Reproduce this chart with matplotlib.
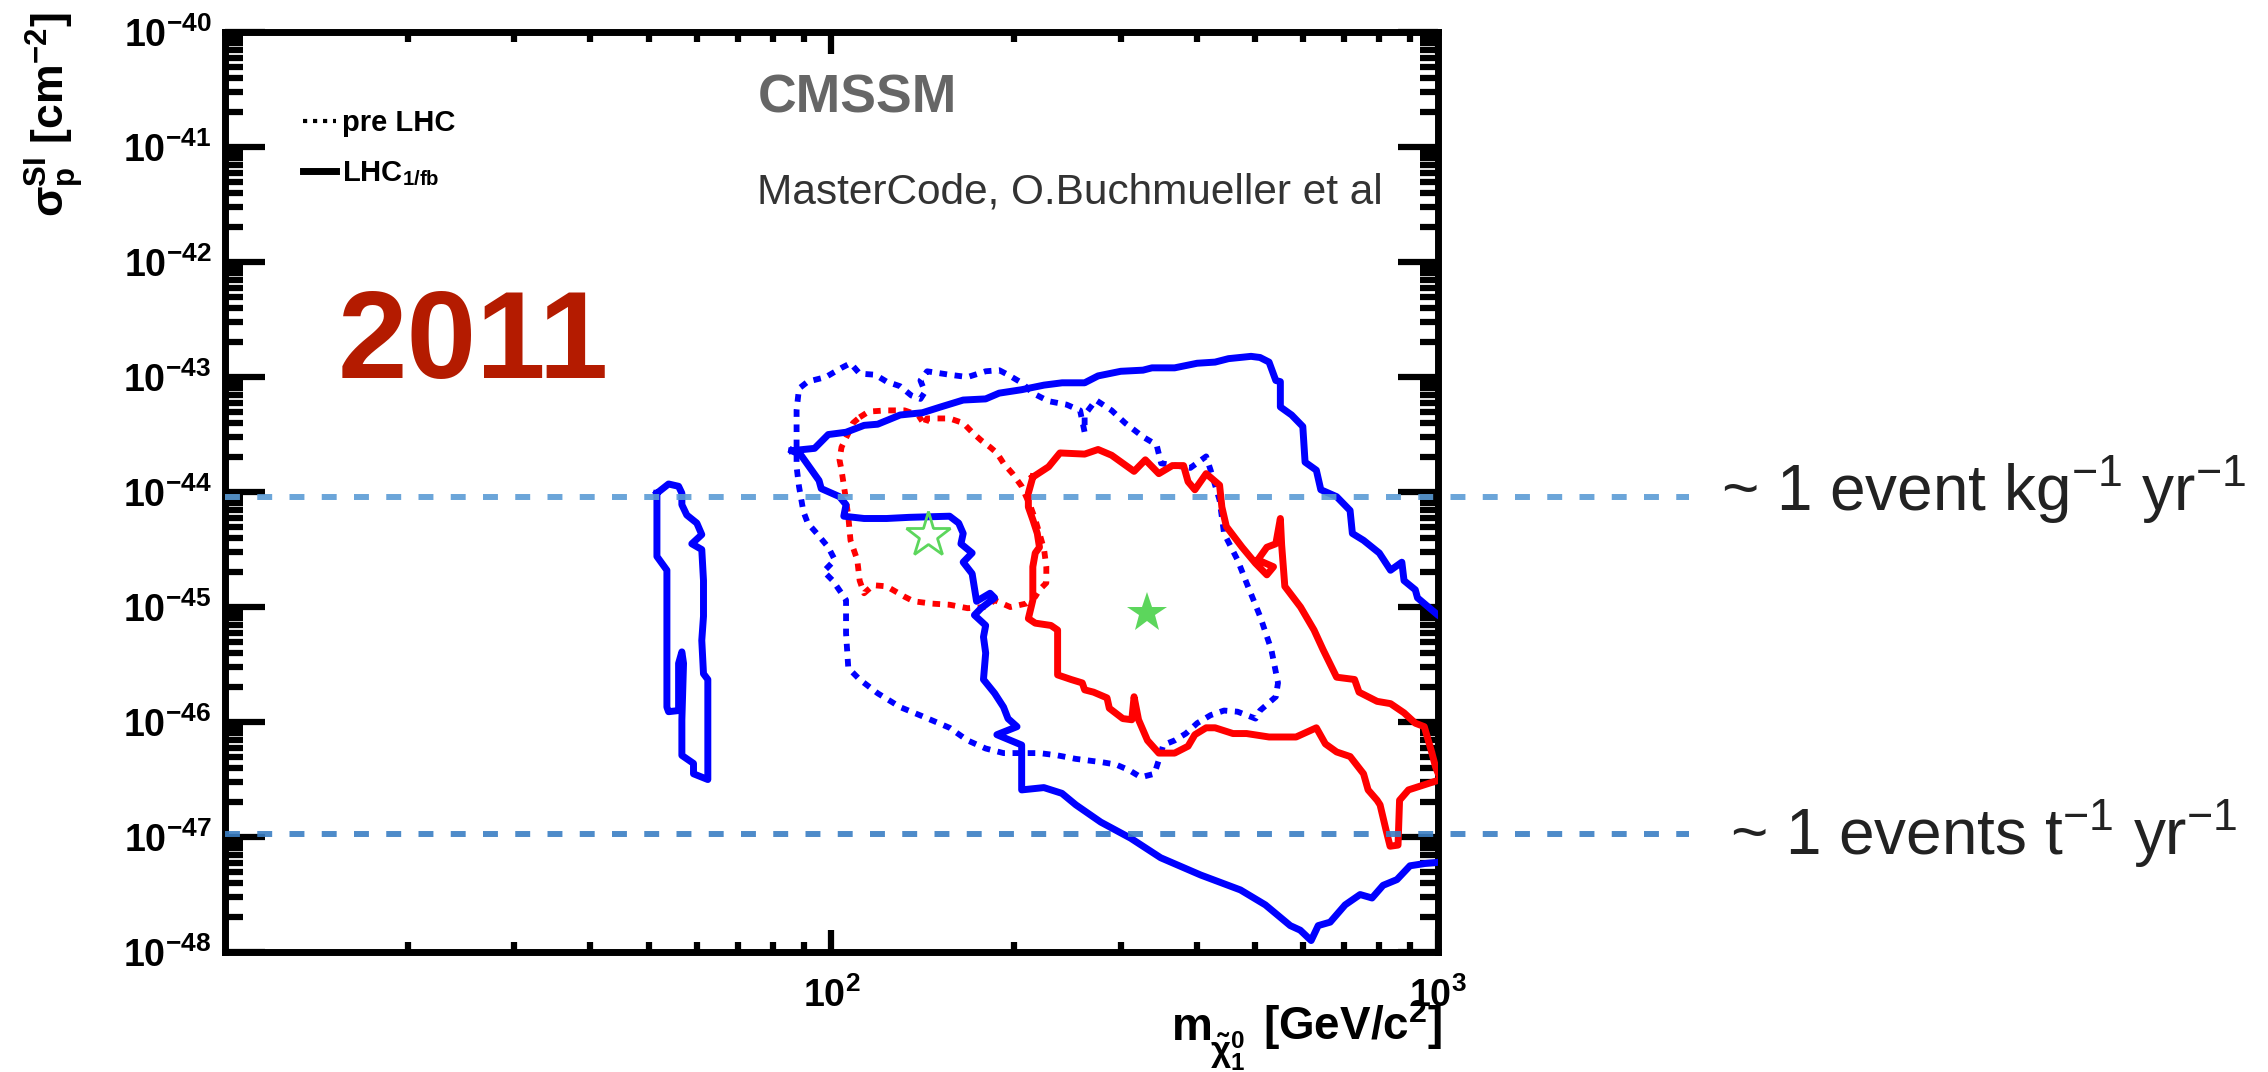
import numpy as np
import matplotlib
matplotlib.use('Agg')
import matplotlib.pyplot as plt
from matplotlib.lines import Line2D
from matplotlib.ticker import LogLocator, NullFormatter

plt.rcParams['font.family'] = ['Liberation Sans', 'DejaVu Sans']
plt.rcParams['mathtext.fontset'] = 'custom'
plt.rcParams['mathtext.rm'] = 'Liberation Sans'
plt.rcParams['mathtext.it'] = 'Liberation Sans:italic'
plt.rcParams['mathtext.bf'] = 'Liberation Sans:bold'

# neutralino mass [GeV] and log10(sigma_SI / cm^2)

# LHC 1/fb, 95% CL (blue solid, main region)
lhc95_m = [86.1, 93.8, 98.8, 105.7, 113.2, 119.2, 129.8, 141.3, 151.4, 164.9,
           179.6, 189.0, 205.9, 224.2, 240.1, 261.5, 275.2, 299.9, 326.4, 337.7,
           368.0, 400.9, 429.1, 451.6, 491.9, 509.0, 526.7, 540.4, 549.8, 549.8,
           573.8, 598.7, 603.9, 630.3, 641.1, 680.7, 716.4, 722.7, 754.0, 800.4,
           835.4, 872.0, 879.3, 917.7, 925.5, 1000.0, 1200.0, 1200.0,
           1000.0, 951.9, 899.4, 856.0, 812.0, 778.7, 744.2, 703.1, 664.3, 634.8,
           618.0, 592.9, 570.8, 519.4, 472.5, 406.2, 349.0, 311.4, 278.0, 252.9,
           239.9, 224.0, 205.9, 205.9, 187.4, 202.3, 195.5, 192.2, 185.8, 178.1,
           179.6, 178.1, 179.6, 172.1, 176.5, 185.8, 182.6, 173.5, 170.6, 164.9,
           170.6, 163.5, 164.9, 162.1, 156.6, 134.3, 123.3, 113.2, 104.8, 105.7,
           103.1, 96.2, 95.4, 89.1, 86.1]
lhc95_lg = [-43.64, -43.62, -43.50, -43.48, -43.42, -43.41, -43.33, -43.31, -43.26, -43.20,
            -43.19, -43.14, -43.11, -43.07, -43.05, -43.05, -42.99, -42.95, -42.94, -42.92,
            -42.92, -42.88, -42.87, -42.84, -42.82, -42.83, -42.87, -43.03, -43.04, -43.26,
            -43.33, -43.43, -43.74, -43.81, -43.98, -44.04, -44.16, -44.36, -44.42, -44.53,
            -44.68, -44.61, -44.77, -44.85, -44.92, -45.07, -45.35, -47.10,
            -47.22, -47.23, -47.25, -47.37, -47.42, -47.53, -47.50, -47.59, -47.74, -47.77,
            -47.90, -47.81, -47.77, -47.59, -47.46, -47.33, -47.18, -47.01, -46.87, -46.72,
            -46.62, -46.57, -46.59, -46.20, -46.11, -46.04, -45.97, -45.87, -45.75, -45.63,
            -45.40, -45.26, -45.16, -45.07, -45.01, -44.92, -44.88, -44.95, -44.71, -44.61,
            -44.53, -44.45, -44.36, -44.27, -44.21, -44.22, -44.23, -44.23, -44.21, -44.11,
            -44.04, -43.97, -43.90, -43.68, -43.64]

# LHC 1/fb, 95% CL (blue solid, light-neutralino funnel)
funnel_m = [51.55, 53.88, 55.97, 56.67, 56.67, 57.74, 59.98, 61.12, 58.85, 61.12,
            61.52, 61.52, 61.12, 61.52, 62.54, 62.54, 59.23, 59.23, 56.67, 56.67,
            57.03, 56.67, 55.97, 55.97, 53.88, 53.54, 53.54, 53.54, 51.55, 51.55]
funnel_lg = [-44.01, -43.93, -43.95, -44.01, -44.11, -44.20, -44.27, -44.37, -44.45, -44.50,
             -44.77, -45.08, -45.29, -45.58, -45.63, -46.50, -46.45, -46.36, -46.29, -45.98,
             -45.49, -45.39, -45.49, -45.90, -45.91, -45.87, -44.94, -44.68, -44.56, -44.01]

# pre-LHC, 95% CL (blue dotted)
pre95_m = [87.6, 87.6, 88.4, 91.4, 97.9, 103.9, 107.5, 111.3, 118.1, 123.3,
           129.8, 135.4, 140.2, 142.6, 140.2, 143.8, 156.6, 167.7, 179.6, 189.0,
           195.5, 205.9, 214.8, 228.1, 244.2, 257.0, 261.5, 261.5, 272.9, 289.7,
           305.0, 326.4, 343.7, 349.6, 390.7, 414.8, 421.9, 436.5, 444.0, 467.3,
           483.6, 509.0, 531.3, 544.9, 540.4, 509.0, 500.4, 467.3, 444.0, 421.9,
           400.9, 384.0, 368.0, 352.5, 346.6, 340.8, 323.7, 310.1, 294.7, 279.9,
           252.7, 236.0, 220.3, 205.9, 192.2, 179.6, 167.7, 156.6, 141.3, 129.8,
           119.2, 111.3, 106.6, 105.7, 105.7, 103.9, 100.5, 97.1, 101.3, 98.8,
           94.6, 91.4, 89.9, 88.4, 87.6, 87.6]
pre95_lg = [-43.61, -43.29, -43.10, -43.04, -43.00, -42.92, -42.88, -42.97, -42.98, -43.04,
            -43.08, -43.16, -43.19, -43.13, -43.03, -42.95, -42.98, -43.00, -42.95, -42.94,
            -42.98, -43.05, -43.14, -43.21, -43.24, -43.29, -43.48, -43.33, -43.20, -43.29,
            -43.40, -43.52, -43.59, -43.75, -43.79, -43.69, -43.81, -44.07, -44.36, -44.59,
            -44.79, -45.08, -45.37, -45.66, -45.78, -45.90, -45.97, -45.91, -45.90, -45.94,
            -46.01, -46.10, -46.16, -46.20, -46.33, -46.45, -46.48, -46.42, -46.37, -46.35,
            -46.32, -46.29, -46.27, -46.27, -46.27, -46.23, -46.16, -46.05, -45.95, -45.87,
            -45.75, -45.63, -45.53, -45.23, -44.94, -44.88, -44.77, -44.69, -44.59, -44.48,
            -44.36, -44.27, -44.17, -43.95, -43.78, -43.61]

# pre-LHC, 68% CL (red dotted)
pre68_m = [111.3, 115.2, 123.3, 132.0, 139.0, 142.6, 143.8, 156.6, 164.9, 170.6,
           176.5, 182.7, 187.4, 192.2, 198.9, 205.9, 209.4, 213.1, 216.8, 220.3,
           224.2, 226.1, 226.1, 220.3, 216.8, 209.4, 197.2, 185.8, 179.6, 167.7,
           156.6, 146.3, 136.6, 132.0, 123.3, 117.2, 113.2, 111.3, 110.3, 107.5,
           106.6, 105.7, 104.8, 103.9, 103.1, 103.9, 106.6, 108.5, 111.3]
pre68_lg = [-43.35, -43.30, -43.29, -43.29, -43.33, -43.42, -43.36, -43.36, -43.40, -43.48,
            -43.55, -43.61, -43.66, -43.75, -43.84, -43.95, -44.04, -44.13, -44.24, -44.36,
            -44.50, -44.65, -44.79, -44.85, -44.91, -44.97, -45.00, -44.94, -45.00, -45.01,
            -44.98, -44.97, -44.95, -44.91, -44.82, -44.81, -44.88, -44.77, -44.59, -44.42,
            -44.21, -44.07, -43.94, -43.81, -43.72, -43.61, -43.49, -43.40, -43.35]

# LHC 1/fb, 68% CL (red solid)
lhc68_m = [214.8, 228.1, 238.1, 261.5, 275.2, 289.7, 315.5, 329.3, 346.6, 364.8,
           380.7, 387.3, 397.4, 414.8, 436.5, 440.3, 447.9, 475.5, 500.4, 522.3,
           535.7, 504.6, 522.3, 540.4, 549.8, 552.5, 559.2, 593.6, 624.8, 646.5,
           680.7, 728.7, 741.2, 793.8, 835.4, 879.3, 917.7, 949.5, 974.1, 991.1,
           1010.0, 894.4, 864.5, 859.5, 833.9, 821.3, 802.8, 793.8, 767.2, 754.0,
           716.6, 680.7, 652.3, 630.3, 583.6, 526.7, 483.6, 459.3, 429.1, 414.8,
           397.4, 387.3, 368.0, 346.6, 332.0, 326.4, 320.9, 315.5, 312.8, 302.3,
           287.2, 284.7, 270.5, 261.5, 259.2, 248.4, 236.0, 236.0, 230.1, 216.8,
           211.2, 214.8, 214.8, 216.8, 220.3, 218.5, 214.8, 211.2, 211.2, 214.8]
lhc68_lg = [-43.87, -43.78, -43.66, -43.67, -43.63, -43.68, -43.82, -43.72, -43.84, -43.77,
            -43.77, -43.91, -43.98, -43.84, -43.94, -44.13, -44.30, -44.48, -44.62, -44.72,
            -44.65, -44.59, -44.48, -44.45, -44.23, -44.46, -44.82, -45.00, -45.20, -45.37,
            -45.61, -45.63, -45.74, -45.82, -45.84, -45.92, -46.01, -46.04, -46.24, -46.39,
            -46.50, -46.59, -46.68, -47.07, -47.08, -46.94, -46.72, -46.68, -46.59, -46.45,
            -46.30, -46.26, -46.19, -46.05, -46.13, -46.13, -46.10, -46.10, -46.05, -46.05,
            -46.11, -46.21, -46.27, -46.27, -46.16, -46.07, -45.98, -45.78, -45.98, -45.97,
            -45.88, -45.79, -45.74, -45.72, -45.66, -45.63, -45.59, -45.20, -45.16, -45.14,
            -45.10, -44.94, -44.65, -44.53, -44.48, -44.36, -44.24, -44.13, -44.01, -43.87]

# best-fit points (pre-LHC open star, LHC filled star)
bestfit_m = [144.5, 331.0]
bestfit_lg = [-44.37, -45.05]

# event-rate reference lines
rate_lg = [-44.04, -46.97]
rate_span = [10.0, 2590.0]
rate_labels = [r'~ 1 event kg$^{-1}$ yr$^{-1}$', r'~ 1 events t$^{-1}$ yr$^{-1}$']

y_exps = [-48, -47, -46, -45, -44, -43, -42, -41, -40]
x_ticks = [100, 1000]
x_ticklabels = [r'$\mathbf{10^{2}}$', r'$\mathbf{10^{3}}$']


def draw_contours(ax):
    dotted = (0, (1.3, 1.3))
    ax.plot(pre95_m, 10.0 ** np.array(pre95_lg), color='#0000FF', lw=4.2, ls=dotted, zorder=2)
    ax.plot(pre68_m, 10.0 ** np.array(pre68_lg), color='#FF0000', lw=4.2, ls=dotted, zorder=2)
    ax.plot(lhc95_m, 10.0 ** np.array(lhc95_lg), color='#0000FF', lw=5, zorder=3)
    ax.plot(funnel_m, 10.0 ** np.array(funnel_lg), color='#0000FF', lw=5, zorder=3)
    ax.plot(lhc68_m, 10.0 ** np.array(lhc68_lg), color='#FF0000', lw=5, zorder=3)

    # best fit points
    ax.plot(bestfit_m[0], 10.0 ** bestfit_lg[0], marker='*', ms=34, mfc='none',
            mec='#5CD65C', mew=2, zorder=6)
    ax.plot(bestfit_m[1], 10.0 ** bestfit_lg[1], marker='*', ms=30, mfc='#5CD65C',
            mec='#5CD65C', mew=0, zorder=6)


def draw_rate_lines(fig, ax):
    colors = ['#5B9BD5', '#3B7FC4']
    label_pos = [(0.759, 0.543), (0.763, 0.222)]
    for lg, col, lab, pos in zip(rate_lg, colors, rate_labels, label_pos):
        ax.plot(rate_span, [10.0 ** lg] * 2, color=col, lw=4.3, alpha=0.9,
                ls=(0, (2.5, 2.9)), clip_on=False, zorder=5)
        fig.text(pos[0], pos[1], lab, fontsize=46, color='#222222', va='center', ha='left')


def decorate(fig, ax):
    ax.set_xscale('log')
    ax.set_yscale('log')
    ax.set_xlim(10, 1000)
    ax.set_ylim(1e-48, 1e-40)

    ax.set_yticks([10.0 ** e for e in y_exps])
    ax.set_yticklabels([r'$\mathbf{10^{%d}}$' % e for e in y_exps])
    ax.set_xticks(x_ticks)
    ax.set_xticklabels(x_ticklabels)
    ax.xaxis.set_minor_locator(LogLocator(base=10, subs=np.arange(2, 10), numticks=100))
    ax.yaxis.set_minor_locator(LogLocator(base=10, subs=np.arange(2, 10), numticks=100))
    ax.xaxis.set_minor_formatter(NullFormatter())
    ax.yaxis.set_minor_formatter(NullFormatter())

    for sp in ax.spines.values():
        sp.set_linewidth(5)
    ax.tick_params(axis='y', which='major', direction='in', length=29, width=4.5,
                   left=True, right=True, labelsize=27, pad=10)
    ax.tick_params(axis='y', which='minor', direction='in', length=13, width=4.5,
                   left=True, right=True)
    ax.tick_params(axis='x', which='major', direction='in', length=16, width=4.5,
                   top=True, bottom=True, labelsize=27, pad=18)
    ax.tick_params(axis='x', which='minor', direction='in', length=7, width=4.5,
                   top=True, bottom=True)

    # axis titles, ROOT style (flush with the axis ends)
    fig.text(0.024, 0.988, r'$\mathbf{\sigma^{SI}_{p}\ [cm^{-2}]}$', rotation=90,
             ha='center', va='top', fontsize=32)
    fig.text(0.636, 0.030, r'$\mathbf{[GeV/c^{2}]}$', ha='right', va='baseline',
             fontsize=33)
    fig.text(0.5165, 0.030, 'm', ha='left', va='baseline', fontsize=33,
             fontweight='bold')
    fig.text(0.5335, 0.010, r'$\mathbf{\tilde{\chi}^{0}_{1}}$', ha='left',
             va='baseline', fontsize=25)

    ax.text(0.439, 0.913, 'CMSSM', transform=ax.transAxes, fontsize=38.5,
            fontweight='bold', color='#666666', va='baseline')
    ax.text(0.439, 0.814, 'MasterCode, O.Buchmueller et al', transform=ax.transAxes,
            fontsize=30.5, color='#333333', va='baseline')
    ax.text(0.093, 0.624, '2011', transform=ax.transAxes, fontsize=90,
            fontweight='bold', color='#B41B00', va='baseline')

    handles = [Line2D([], [], color='black', lw=3, ls=(0, (1.0, 1.4))),
               Line2D([], [], color='black', lw=5)]
    ax.legend(handles, ['pre LHC', r'$\mathbf{LHC_{1/fb}}$'], loc='upper left',
              bbox_to_anchor=(0.064, 0.916), frameon=False, borderpad=0,
              borderaxespad=0, handlelength=1.15, handletextpad=0.2,
              labelspacing=0.75, prop={'weight': 'bold', 'size': 21})


def main():
    fig = plt.figure(figsize=(22.68, 10.72), dpi=100)
    ax = fig.add_axes([0.0992, 0.1119, 0.5348, 0.8582])
    decorate(fig, ax)
    draw_contours(ax)
    draw_rate_lines(fig, ax)
    fig.savefig('out.png', dpi=100, facecolor='white')


if __name__ == '__main__':
    main()
